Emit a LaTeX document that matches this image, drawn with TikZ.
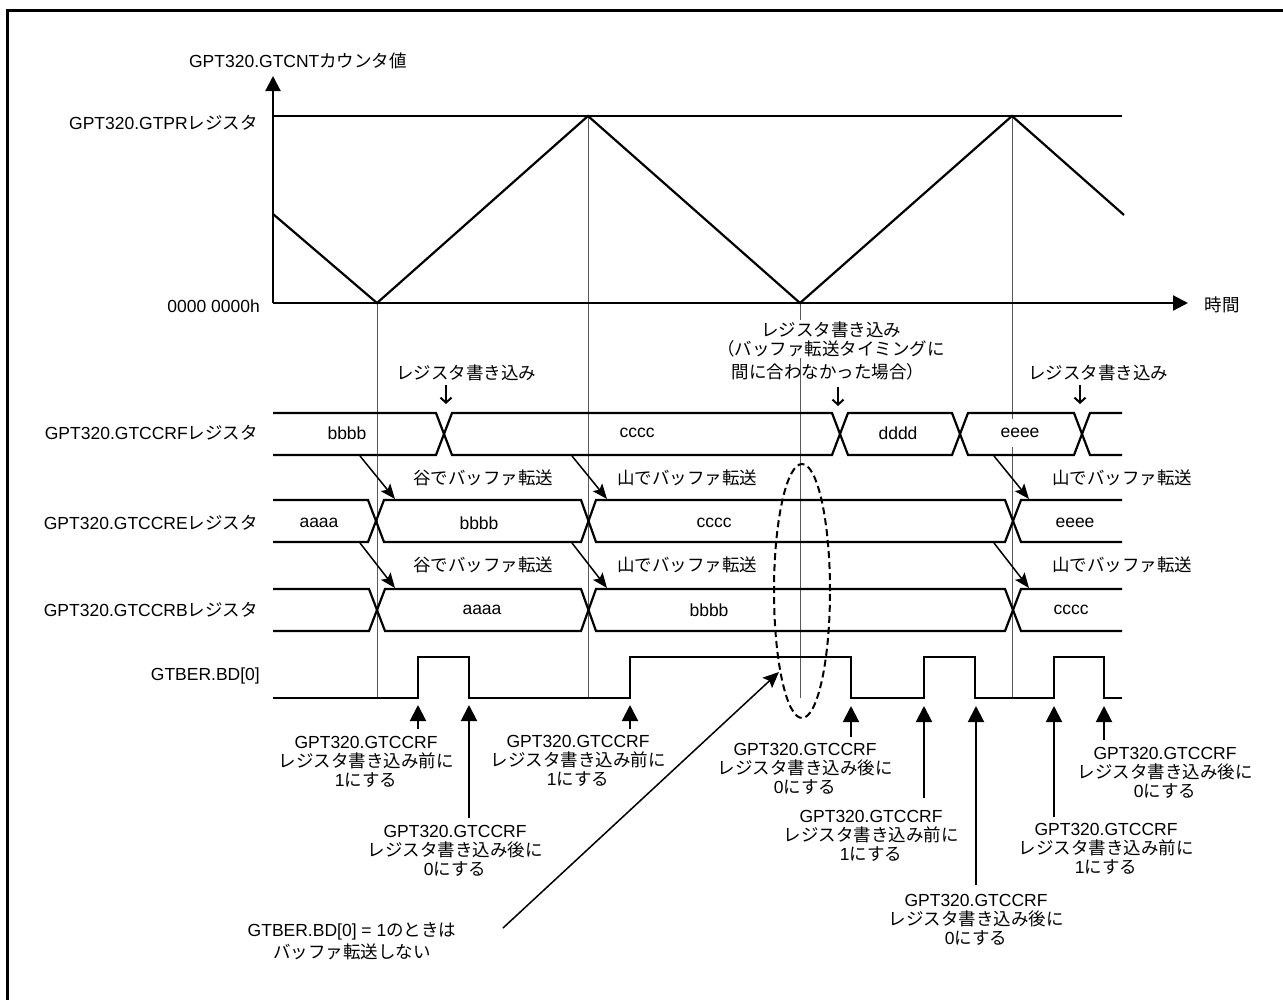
\documentclass[tikz,border=0pt]{standalone}
\usepackage{fontspec}
\setmainfont{Liberation Sans}
\newfontfamily\jp{Noto Sans CJK JP}
\newcommand\J[1]{{\jp #1}}
\newcommand\fs{\fontsize{17.5bp}{19bp}\selectfont}
\usetikzlibrary{arrows.meta}
\begin{document}
\begin{tikzpicture}[x=1bp,y=-1bp,
  sig/.style={line width=2.2bp, line join=miter},
  guide/.style={line width=1bp, draw=black!65},
  lbl/.style={font=\fs, inner sep=0pt, align=center},
  val/.style={lbl, fill=white, inner sep=1.5bp},
  axisarrow/.style={line width=2.2bp, -{Triangle[length=15bp,width=15bp]}},
  uparrow/.style={line width=2bp, -{Triangle[length=16bp,width=16bp]}},
  xfer/.style={line width=1.5bp, -{Stealth[length=15bp,width=12bp,inset=3bp]}},
  wrarrow/.style={line width=2bp, -{Straight Barb[length=5bp,width=11bp]}},
  note/.style={line width=1.5bp, -{Stealth[length=16bp,width=14bp,inset=3bp]}},
]
\useasboundingbox (0,0) rectangle (1283,1000);
% frame
\draw[line width=3bp] (7.5,1010) -- (7.5,10) -- (1295,10);

% guide lines
\draw[guide] (377,303) -- (377,698);
\draw[guide] (588,116) -- (588,698);
\draw[guide] (800,303) -- (800,698);
\draw[guide] (1012,116) -- (1012,698);

% axes
\coordinate (O) at (273,303);
\coordinate (Ytip) at (273,76);
\coordinate (Xtip) at (1188,303);
\draw[axisarrow] (O) -- (Ytip);
\draw[axisarrow] (O) -- (Xtip);
\draw[sig] (273,116) -- (1122,116);
\draw[sig] (273,214) -- (377,303) -- (588,116) -- (800,303) -- (1012,116) -- (1124,215);

\node[lbl] (cntlbl) at (298,61) {GPT320.GTCNT\J{カウンタ値}};
\node[lbl,anchor=east] (prlbl) at (258,123) {GPT320.GTPR\J{レジスタ}};
\node[lbl,anchor=east] (zlbl) at (260,306) {0000 0000h};
\node[lbl] (tlbl) at (1222,305) {\J{時間}};

% row labels
\node[lbl,anchor=east] (rF) at (258,433) {GPT320.GTCCRF\J{レジスタ}};
\node[lbl,anchor=east] (rE) at (258,523) {GPT320.GTCCRE\J{レジスタ}};
\node[lbl,anchor=east] (rB) at (258,610) {GPT320.GTCCRB\J{レジスタ}};
\node[lbl,anchor=east] (rD) at (260,676) {GTBER.BD[0]};

% GTCCRF row
\draw[sig] (273,413) -- (436,413) -- (452,455) -- (832,455) -- (848,413) -- (952,413) -- (968,455) -- (1074,455) -- (1090,413) -- (1122,413);
\draw[sig] (273,455) -- (436,455) -- (452,413) -- (832,413) -- (848,455) -- (952,455) -- (968,413) -- (1074,413) -- (1090,455) -- (1122,455);
% GTCCRE row
\draw[sig] (273,500) -- (368,500) -- (384,542) -- (581,542) -- (596,500) -- (1005,500) -- (1021,542) -- (1122,542);
\draw[sig] (273,542) -- (368,542) -- (384,500) -- (581,500) -- (596,542) -- (1005,542) -- (1021,500) -- (1122,500);
% GTCCRB row
\draw[sig] (273,589) -- (369,589) -- (385,631) -- (581,631) -- (596,589) -- (1005,589) -- (1021,631) -- (1122,631);
\draw[sig] (273,631) -- (369,631) -- (385,589) -- (581,589) -- (596,631) -- (1005,631) -- (1021,589) -- (1122,589);

% values
\node[val] (vF1) at (347,433) {bbbb};
\node[val] (vF2) at (637,433) {cccc};
\node[val] (vF3) at (898,433) {dddd};
\node[val,minimum height=28bp] (vF4) at (1020,433) {eeee};
\node[val] (vE1) at (319,523) {aaaa};
\node[val] (vE2) at (479,523) {bbbb};
\node[val] (vE3) at (714,523) {cccc};
\node[val] (vE4) at (1075,523) {eeee};
\node[val] (vB1) at (482,610) {aaaa};
\node[val] (vB2) at (709,610) {bbbb};
\node[val] (vB3) at (1071,610) {cccc};

% transfer arrows
\coordinate (t1s) at (360,456); \coordinate (t1e) at (395,499);
\coordinate (t2s) at (572,456); \coordinate (t2e) at (607,499);
\coordinate (t3s) at (994,456); \coordinate (t3e) at (1029,499);
\coordinate (t4s) at (360,543); \coordinate (t4e) at (395,588);
\coordinate (t5s) at (572,543); \coordinate (t5e) at (607,588);
\coordinate (t6s) at (994,543); \coordinate (t6e) at (1029,588);
\draw[xfer] (t1s) -- (t1e);
\draw[xfer] (t2s) -- (t2e);
\draw[xfer] (t3s) -- (t3e);
\draw[xfer] (t4s) -- (t4e);
\draw[xfer] (t5s) -- (t5e);
\draw[xfer] (t6s) -- (t6e);
\node[lbl] (x1) at (483,478) {\J{谷でバッファ転送}};
\node[lbl] (x2) at (687,478) {\J{山でバッファ転送}};
\node[lbl] (x3) at (1122,478) {\J{山でバッファ転送}};
\node[lbl] (x4) at (483,565) {\J{谷でバッファ転送}};
\node[lbl] (x5) at (687,565) {\J{山でバッファ転送}};
\node[lbl] (x6) at (1122,565) {\J{山でバッファ転送}};

% write labels
\node[lbl] (w1) at (466,373) {\J{レジスタ書き込み}};
\node[lbl,fill=white,inner sep=1bp] (w2) at (831,339) {\J{レジスタ書き込み}\\\J{（バッファ転送タイミングに}};
\node[lbl] (w2b) at (828,372) {\J{間に合わなかった場合）}};
\node[lbl] (w3) at (1098,373) {\J{レジスタ書き込み}};
\coordinate (d1s) at (446,385); \coordinate (d1e) at (446,404);
\coordinate (d2s) at (838,387); \coordinate (d2e) at (838,406);
\coordinate (d3s) at (1080,385); \coordinate (d3e) at (1080,404);
\draw[wrarrow] (d1s) -- (d1e);
\draw[wrarrow] (d2s) -- (d2e);
\draw[wrarrow] (d3s) -- (d3e);

% GTBER.BD[0]
\draw[sig] (273,698) -- (418,698) -- (418,657) -- (469,657) -- (469,698) -- (630,698) -- (630,657) -- (851,657) -- (851,698) -- (924,698) -- (924,657) -- (975,657) -- (975,698) -- (1054,698) -- (1054,657) -- (1104,657) -- (1104,698) -- (1122,698);

% up arrows
\coordinate (u1t) at (418,705); \coordinate (u1s) at (418,729);
\coordinate (u2t) at (469,705); \coordinate (u2s) at (469,818);
\coordinate (u3t) at (630,705); \coordinate (u3s) at (630,729);
\coordinate (u4t) at (851,706); \coordinate (u4s) at (851,737);
\coordinate (u5t) at (924,706); \coordinate (u5s) at (924,798);
\coordinate (u6t) at (976,706); \coordinate (u6s) at (976,885);
\coordinate (u7t) at (1054,706); \coordinate (u7s) at (1054,817);
\coordinate (u8t) at (1104,706); \coordinate (u8s) at (1104,740);
\foreach \i in {1,...,8} {\draw[uparrow] (u\i s) -- (u\i t);}

\node[lbl] (L1) at (366,762) {GPT320.GTCCRF\\\J{レジスタ書き込み前に}\\1\J{にする}};
\node[lbl] (L2) at (455,851) {GPT320.GTCCRF\\\J{レジスタ書き込み後に}\\0\J{にする}};
\node[lbl] (L3) at (578,761) {GPT320.GTCCRF\\\J{レジスタ書き込み前に}\\1\J{にする}};
\node[lbl] (L4) at (805,769) {GPT320.GTCCRF\\\J{レジスタ書き込み後に}\\0\J{にする}};
\node[lbl] (L5) at (871,836) {GPT320.GTCCRF\\\J{レジスタ書き込み前に}\\1\J{にする}};
\node[lbl] (L6) at (976,920) {GPT320.GTCCRF\\\J{レジスタ書き込み後に}\\0\J{にする}};
\node[lbl] (L7) at (1106,849) {GPT320.GTCCRF\\\J{レジスタ書き込み前に}\\1\J{にする}};
\node[lbl] (L8) at (1165,773) {GPT320.GTCCRF\\\J{レジスタ書き込み後に}\\0\J{にする}};

% note
\node[lbl] (nt) at (352,941) {GTBER.BD[0] = 1\J{のときは}\\[3bp]\J{バッファ転送しない}};
\coordinate (ns) at (503,928);
\coordinate (ne) at (779,672);
\draw[note] (ns) -- (ne);
\draw[line width=2bp, dash pattern=on 7bp off 4bp] (802,591) ellipse [x radius=28bp, y radius=127bp];
\end{tikzpicture}
\end{document}
